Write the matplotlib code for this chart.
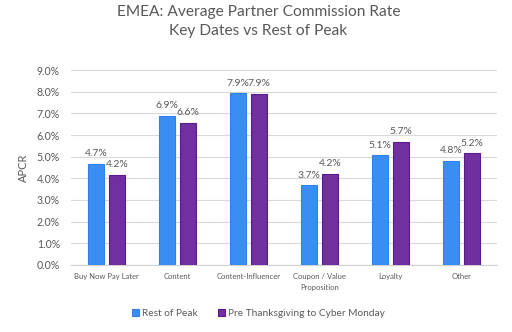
import matplotlib
matplotlib.use("Agg")
import matplotlib.pyplot as plt
import numpy as np

categories = ["Buy Now Pay Later", "Content", "Content-Influencer",
              "Coupon / Value\nProposition", "Loyalty", "Other"]
rest_of_peak = [4.66, 6.88, 7.92, 3.68, 5.06, 4.81]
pre_thanksgiving = [4.16, 6.57, 7.90, 4.20, 5.70, 5.16]
series_names = ["Rest of Peak", "Pre Thanksgiving to Cyber Monday"]
yticks = [0, 1, 2, 3, 4, 5, 6, 7, 8, 9]

plt.rcParams['font.family'] = ['Lato', 'DejaVu Sans']
gray = '#595959'

fig = plt.figure(figsize=(5.12, 3.32), dpi=100)
ax = fig.add_axes([0.139, 0.202, 0.832, 0.587])

x = np.arange(len(categories))
w = 0.225
off = 0.145
b1 = ax.bar(x - off, rest_of_peak, w, color='#3A8DF2', edgecolor='#2F82EE',
            linewidth=0.8, label=series_names[0], zorder=3)
b2 = ax.bar(x + off, pre_thanksgiving, w, color='#7030A0', edgecolor='#5A1C8C',
            linewidth=0.8, label=series_names[1], zorder=3)

for bars, vals in ((b1, rest_of_peak), (b2, pre_thanksgiving)):
    for r, v in zip(bars, vals):
        ax.annotate(f"{v:.1f}%", (r.get_x() + r.get_width() / 2, r.get_height()),
                    xytext=(0, 4), textcoords='offset points', ha='center',
                    va='bottom', fontsize=7.5, color=gray)

ax.set_xlim(-0.5, len(categories) - 0.5)
ax.set_ylim(0, 9)
ax.set_yticks(yticks)
ax.set_yticklabels([f"{t:.1f}%" for t in yticks], fontsize=7.6, color=gray)
ax.set_xticks(x)
ax.set_xticklabels(categories, fontsize=5.5, color=gray, linespacing=1.6)
ax.tick_params(axis='both', length=0)
ax.tick_params(axis='y', pad=8)
ax.tick_params(axis='x', pad=6)
ax.grid(axis='y', color='#D9D9D9', linewidth=0.8, zorder=0)
for s in ['top', 'right', 'left']:
    ax.spines[s].set_visible(False)
ax.spines['bottom'].set_color('#D0D0D0')
ax.spines['bottom'].set_linewidth(0.8)
ax.set_ylabel("APCR", fontsize=8, color=gray, labelpad=6)

fig.text(0.505, 0.935, "EMEA: Average Partner Commission Rate\nKey Dates vs Rest of Peak",
         ha='center', va='center', fontsize=11.2, color=gray, linespacing=1.4)

fig.legend(handles=[b1, b2], loc='center', bbox_to_anchor=(0.505, 0.057), ncol=2,
           frameon=False, fontsize=7.3, handlelength=0.7, handleheight=0.7,
           handletextpad=0.3, columnspacing=2.0, labelcolor=gray)

fig.savefig("out.png", dpi=100)
